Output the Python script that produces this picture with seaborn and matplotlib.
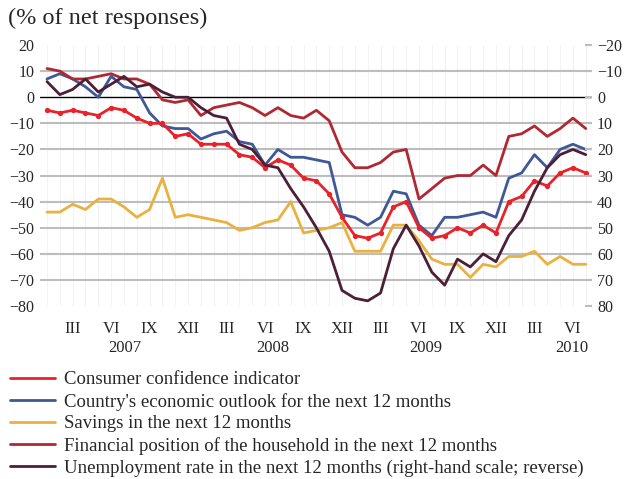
import numpy as np
import pandas as pd
import seaborn as sns
import matplotlib.pyplot as plt
from matplotlib.lines import Line2D
from matplotlib.transforms import blended_transform_factory

# monthly survey data, Jan 2007 - Jul 2010
months = pd.period_range('2007-01', '2010-07', freq='M')

consumer = [-5, -6, -5, -6, -7, -4, -5, -8, -10, -10, -15, -14, -18, -18, -18, -22, -23, -27,
            -24, -26, -31, -32, -37, -46, -53, -54, -52, -42, -40, -50, -54, -53, -50, -52, -49,
            -52, -40, -38, -32, -34, -29, -27, -29]
economy = [7, 9, 7, 4, 0, 8, 4, 3, -6, -11, -12, -12, -16, -14, -13, -17, -18, -26, -20, -23,
           -23, -24, -25, -45, -46, -49, -46, -36, -37, -49, -53, -46, -46, -45, -44, -46, -31,
           -29, -22, -27, -20, -18, -20]
savings = [-44, -44, -41, -43, -39, -39, -42, -46, -43, -31, -46, -45, -46, -47, -48, -51, -50,
           -48, -47, -40, -52, -51, -50, -48, -59, -59, -59, -49, -49, -55, -62, -64, -64, -69,
           -64, -65, -61, -61, -59, -64, -61, -64, -64]
financial = [11, 10, 7, 7, 8, 9, 7, 7, 5, -1, -2, -1, -7, -4, -3, -2, -4, -7, -4, -7, -8, -5,
             -9, -21, -27, -27, -25, -21, -20, -39, -35, -31, -30, -30, -26, -30, -15, -14, -11,
             -15, -12, -8, -12]
unemployment = [-6, -1, -3, -7, -2, -5, -8, -4, -5, -2, 0, 0, 4, 7, 8, 18, 20, 26, 27, 35, 42,
                50, 59, 74, 77, 78, 75, 58, 49, 57, 67, 72, 62, 65, 60, 63, 53, 47, 36, 27, 22,
                20, 22]

labels = ['Consumer confidence indicator',
          "Country's economic outlook for the next 12 months",
          'Savings in the next 12 months',
          'Financial position of the household in the next 12 months',
          'Unemployment rate in the next 12 months (right-hand scale; reverse)']
colors = ['#e8222b', '#3f5896', '#e9b13f', '#b02832', '#4b1f37']

roman = {3: 'III', 6: 'VI', 9: 'IX', 12: 'XII'}
years = ['2007', '2008', '2009', '2010']
year_pos = [6.1, 17.6, 29.5, 40.9]

df = pd.DataFrame({'t': np.arange(len(months)), 'consumer': consumer, 'economy': economy,
                   'savings': savings, 'financial': financial, 'unemployment': unemployment})

sns.set_style('white')
plt.rcParams['font.family'] = ['Liberation Serif', 'DejaVu Serif']

fig = plt.figure(figsize=(6.24, 4.79), dpi=100)
ax = fig.add_axes([0.064, 0.361, 0.885, 0.545])
ax2 = ax.twinx()

lw = 2.0
sns.lineplot(data=df, x='t', y='economy', ax=ax, color=colors[1], lw=lw, zorder=3)
sns.lineplot(data=df, x='t', y='savings', ax=ax, color=colors[2], lw=lw, zorder=3)
sns.lineplot(data=df, x='t', y='financial', ax=ax, color=colors[3], lw=lw, zorder=3)
sns.lineplot(data=df, x='t', y='consumer', ax=ax, color=colors[0], lw=lw, marker='o',
             markersize=3.8, markeredgewidth=0, zorder=4)
sns.lineplot(data=df, x='t', y='unemployment', ax=ax2, color=colors[4], lw=lw, zorder=3)

ax.set_xlim(-0.55, 42.5)
ax.set_ylim(-80, 20)
ax2.set_ylim(80, -20)
ax.set_yticks(np.arange(-80, 21, 10))
ax2.set_yticks(np.arange(-20, 81, 10))

# horizontal grid, no line at the limits; black zero line
for v in range(-70, 11, 10):
    if v == 0:
        ax.axhline(0, color='black', lw=1.0, zorder=2)
    else:
        ax.axhline(v, color='#bdbdbd', lw=1.5, zorder=1)
for t in df['t']:
    ax.axvline(t, color='#f3f3f3', lw=0.8, zorder=0)

ticks = [i for i, m in enumerate(months) if m.month in roman]
ax.set_xticks(ticks)
ax.set_xticklabels([roman[months[i].month] for i in ticks])
ax.set_xlabel('')
ax.set_ylabel('')
ax2.set_ylabel('')

for a in (ax, ax2):
    for s in a.spines.values():
        s.set_visible(False)
ax.tick_params(axis='x', length=0, pad=11, labelsize=12)
ax.tick_params(axis='y', length=0, pad=4, labelsize=11.5)
ax2.tick_params(axis='y', direction='in', length=5, color='#bdbdbd', width=1.5, pad=3.5,
                labelsize=11.5)

tr = blended_transform_factory(ax.transData, ax.transAxes)
for y, p in zip(years, year_pos):
    ax.text(p, -0.16, y, transform=tr, ha='center', va='center', fontsize=12)

fig.text(0.013, 0.962, '(% of net responses)', fontsize=17.5, va='center', ha='left')

handles = [Line2D([], [], color=c, lw=lw) for c in colors]
fig.legend(handles, labels, loc='upper left', bbox_to_anchor=(0.016, 0.225), frameon=False,
           fontsize=13.5, handlelength=2.4, handletextpad=0.48, labelspacing=0.24,
           borderaxespad=0, borderpad=0)

fig.savefig('out.png', dpi=100)
